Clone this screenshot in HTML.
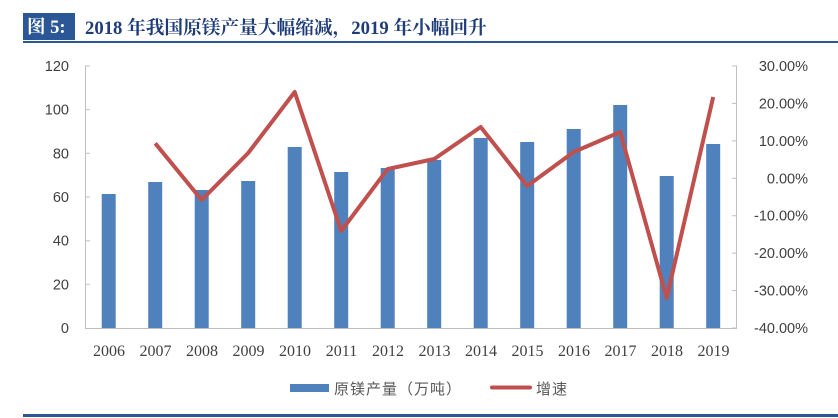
<!DOCTYPE html>
<html><head><meta charset="utf-8"><style>
body{margin:0;background:#fff;width:838px;height:418px;overflow:hidden}
svg{display:block}
</style></head><body>
<svg width="838" height="418" xmlns="http://www.w3.org/2000/svg">
<rect x="23" y="13" width="52" height="27" fill="#2b5797"/>
<text x="27" y="33" font-family="'Liberation Serif','Noto Serif CJK SC',serif" font-weight="bold" font-size="18.5" fill="#fff">图 5:</text>
<text x="85" y="34" font-family="'Liberation Serif','Noto Serif CJK SC',serif" font-weight="bold" font-size="18.7" fill="#1f3c7a">2018 年我国原镁产量大幅缩减，2019 年小幅回升</text>
<rect x="23" y="41" width="815" height="2" fill="#2b5797"/>
<rect x="23" y="414" width="815" height="3" fill="#2b5797"/>
<g stroke="#bfbfbf" stroke-width="1" fill="none">
<path d="M85.5 66V328.5H736.5V66"/>
<path d="M85 66h5M85 109.7h5M85 153.3h5M85 197h5M85 240.7h5M85 284.3h5"/>
<path d="M732 66h5M732 103.4h5M732 140.9h5M732 178.3h5M732 215.7h5M732 253.1h5M732 290.6h5M732 328h5"/>
</g>
<g font-family="'Liberation Sans',sans-serif" font-size="14.5" fill="#404040" text-anchor="end">
<text x="69" y="71">120</text><text x="69" y="114.7">100</text><text x="69" y="158.3">80</text><text x="69" y="202">60</text><text x="69" y="245.7">40</text><text x="69" y="289.3">20</text><text x="69" y="333">0</text>
</g>
<g font-family="'Liberation Sans',sans-serif" font-size="14.5" fill="#404040" text-anchor="end">
<text x="808" y="71">30.00%</text><text x="808" y="108.4">20.00%</text><text x="808" y="145.9">10.00%</text><text x="808" y="183.3">0.00%</text><text x="808" y="220.7">-10.00%</text><text x="808" y="258.1">-20.00%</text><text x="808" y="295.6">-30.00%</text><text x="808" y="333">-40.00%</text>
</g>
<g fill="#4f81bd">
<rect x="101.7" y="194" width="14" height="134"/>
<rect x="148.2" y="182" width="14" height="146"/>
<rect x="194.7" y="190" width="14" height="138"/>
<rect x="241.2" y="181" width="14" height="147"/>
<rect x="287.7" y="147" width="14" height="181"/>
<rect x="334.2" y="172" width="14" height="156"/>
<rect x="380.7" y="168" width="14" height="160"/>
<rect x="427.2" y="160" width="14" height="168"/>
<rect x="473.7" y="138" width="14" height="190"/>
<rect x="520.2" y="142" width="14" height="186"/>
<rect x="566.7" y="129" width="14" height="199"/>
<rect x="613.2" y="105" width="14" height="223"/>
<rect x="659.7" y="176" width="14" height="152"/>
<rect x="706.2" y="144" width="14" height="184"/>
</g>
<polyline fill="none" stroke="#c0504d" stroke-width="4" stroke-linejoin="round" points="155.2,143.3 201.7,200 248.2,153 294.7,92 341.2,231 387.7,169 434.2,159 480.7,127 527.2,186 573.7,152 620.2,132 666.7,298 713.2,97"/>
<g font-family="'Liberation Serif',serif" font-size="16" fill="#404040" text-anchor="middle">
<text x="109" y="356">2006</text><text x="155.5" y="356">2007</text><text x="202" y="356">2008</text><text x="248.5" y="356">2009</text><text x="295" y="356">2010</text><text x="341.5" y="356">2011</text><text x="388" y="356">2012</text><text x="434.5" y="356">2013</text><text x="481" y="356">2014</text><text x="527.5" y="356">2015</text><text x="574" y="356">2016</text><text x="620.5" y="356">2017</text><text x="667" y="356">2018</text><text x="713.5" y="356">2019</text>
</g>
<rect x="290" y="384" width="39" height="8" fill="#4f81bd"/>
<text x="334" y="394" font-family="'Liberation Sans','Noto Sans CJK SC',sans-serif" font-size="15" letter-spacing="1" fill="#595959">原镁产量（万吨）</text>
<line x1="492" y1="387.5" x2="530" y2="387.5" stroke="#c0504d" stroke-width="4" stroke-linecap="round"/>
<text x="536" y="394" font-family="'Liberation Sans','Noto Sans CJK SC',sans-serif" font-size="15" letter-spacing="1" fill="#595959">增速</text>
</svg>
</body></html>
